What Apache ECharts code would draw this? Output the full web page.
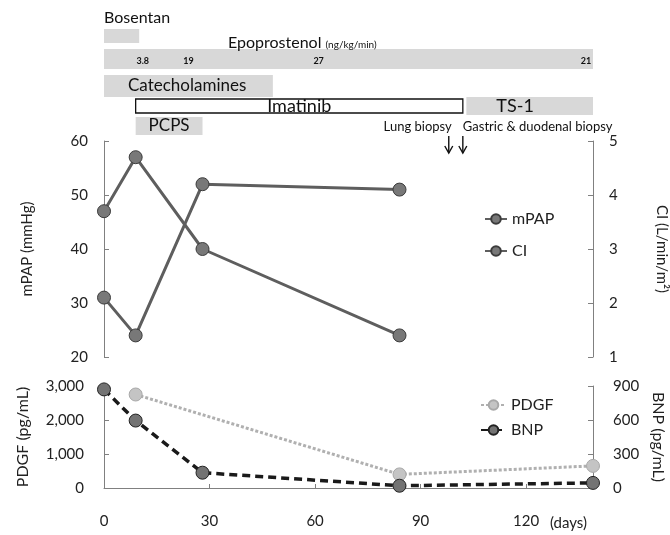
<!DOCTYPE html>
<html>
<head>
<meta charset="utf-8">
<script src="https://cdn.jsdelivr.net/npm/echarts@6/dist/echarts.min.js"></script>
<style>
  html, body { margin: 0; padding: 0; background: #fff; }
  #chart { width: 670px; height: 535px; }
</style>
</head>
<body>
<div id="chart"></div>
<script>
// hemodynamics
const hemoDays = [0, 9, 28, 84];
const mPAP = [47, 57, 40, 24];
const CI = [2.1, 1.4, 4.2, 4.1];

// biomarkers
const bnpDays = [0, 9, 28, 84, 139];
const BNP = [870, 595, 135, 20, 45];
const pdgfDays = [9, 84, 139];
const PDGF = [2750, 400, 650];

const dayTicks = [0, 30, 60, 90, 120];

// treatment timeline (days)
const treatNames = ['Bosentan', 'Epoprostenol', 'Catecholamines', 'Imatinib', 'TS-1', 'PCPS'];
const treatStart = [0, 0, 0, 9, 103, 9];
const treatEnd = [10, 139, 48, 102, 139, 28];

const doseDays = [11, 24, 61, 137];
const doseLabels = ['3.8', '19', '27', '21'];

const biopsyDays = [98, 102];
const biopsyLabels = ['Lung biopsy', 'Gastric & duodenal biopsy'];

const FONT = 'Lato';
const GRAY = '#d8d8d8';
const AXIS = '#808080';

// row placement of the bars in the timeline strip
const barLayout = {
  'Bosentan':       { y: 29,  h: 14, fill: GRAY,   dx: 0,  ty: 18,  size: 16 },
  'Epoprostenol':   { y: 49,  h: 20, fill: GRAY,   dx: 124, ty: 43, size: 16, rich: true },
  'Catecholamines': { y: 75,  h: 22, fill: GRAY,   dx: 24, ty: 86,  size: 17 },
  'Imatinib':       { y: 99,  h: 14, fill: '#fff', stroke: '#111', center: true, ty: 106, size: 18 },
  'TS-1':           { y: 97,  h: 18, fill: GRAY,   dx: 30, ty: 106, size: 18 },
  'PCPS':           { y: 117, h: 18, fill: GRAY,   center: true, ty: 126, size: 17 }
};

function renderTreatment(params, api) {
  const name = treatNames[api.value(2)];
  const L = barLayout[name];
  const x0 = api.coord([api.value(0), 0])[0];
  const x1 = api.coord([api.value(1), 0])[0];
  const tx = L.center ? (x0 + x1) / 2 : x0 + L.dx;
  const textStyle = {
    x: tx, y: L.ty,
    align: L.center ? 'center' : 'left',
    verticalAlign: 'middle',
    fill: '#111',
    fontSize: L.size, fontFamily: FONT
  };
  if (L.rich) {
    textStyle.text = '{a|Epoprostenol} {b|(ng/kg/min)}';
    textStyle.rich = {
      a: { fontSize: 16, fontFamily: FONT, fill: '#111', verticalAlign: 'bottom' },
      b: { fontSize: 10, fontFamily: FONT, fill: '#111', verticalAlign: 'bottom', padding: [0, 0, 1, 0] }
    };
  } else {
    textStyle.text = name;
  }
  return {
    type: 'group',
    children: [
      {
        type: 'rect',
        shape: { x: x0, y: L.y, width: x1 - x0, height: L.h },
        style: { fill: L.fill, stroke: L.stroke || null, lineWidth: L.stroke ? 1.3 : 0 }
      },
      { type: 'text', style: textStyle }
    ]
  };
}

function renderDose(params, api) {
  const x = api.coord([api.value(0), 0])[0];
  return {
    type: 'text',
    style: {
      text: doseLabels[params.dataIndex], x: x, y: 61.5,
      align: 'center', verticalAlign: 'middle',
      fontSize: 9, fontWeight: 'bold', fontFamily: FONT, fill: '#111'
    }
  };
}

function renderBiopsy(params, api) {
  const x = api.coord([api.value(0), 0])[0];
  const i = params.dataIndex;
  return {
    type: 'group',
    children: [
      { type: 'line', shape: { x1: x, y1: 136, x2: x, y2: 153 }, style: { stroke: '#111', lineWidth: 1.4 } },
      { type: 'polyline', shape: { points: [[x - 4, 146], [x, 153], [x + 4, 146]] }, style: { stroke: '#111', lineWidth: 1.4, fill: null } },
      {
        type: 'text',
        style: {
          text: biopsyLabels[i], x: i === 0 ? x + 3 : x, y: 127,
          align: i === 0 ? 'right' : 'left', verticalAlign: 'middle',
          fontSize: 13, fontFamily: FONT, fill: '#111'
        }
      }
    ]
  };
}

const labelStyle = { fontSize: 15, fontFamily: FONT, color: '#222' };
const nameStyle = { fontSize: 15, fontFamily: FONT, color: '#222' };

function yAxisBase(grid, pos, min, max, step) {
  return {
    gridIndex: grid, type: 'value', position: pos,
    min: min, max: max, interval: step,
    axisLine: { show: true, onZero: false, lineStyle: { color: AXIS, width: 1 } },
    axisTick: { show: true, inside: true, length: 5, lineStyle: { color: AXIS } },
    splitLine: { show: false },
    axisLabel: Object.assign({ margin: 16 }, labelStyle),
    nameLocation: 'middle',
    nameMoveOverlap: false,
    nameTextStyle: nameStyle
  };
}

const chart = echarts.init(document.getElementById('chart'));

const yMPAP = yAxisBase(1, 'left', 20, 60, 10);
yMPAP.name = 'mPAP (mmHg)';
yMPAP.nameGap = 69;

const yCI = yAxisBase(1, 'right', 1, 5, 1);
yCI.name = 'CI (L/min/m²)';
yCI.nameGap = 61;
yCI.nameRotate = -90;

const yPDGF = yAxisBase(2, 'left', 0, 3000, 1000);
yPDGF.name = 'PDGF (pg/mL)';
yPDGF.nameGap = 73;
yPDGF.nameTextStyle = Object.assign({}, nameStyle, { fontSize: 16 });
yPDGF.axisLabel.formatter = v => v.toLocaleString('en-US');
yPDGF.axisLabel.margin = 20;

const yBNP = yAxisBase(2, 'right', 0, 900, 300);
yBNP.name = 'BNP (pg/mL)';
yBNP.nameGap = 57;
yBNP.nameRotate = -90;
yBNP.nameTextStyle = Object.assign({}, nameStyle, { fontSize: 16 });
yBNP.axisLabel.margin = 20;

const option = {
  backgroundColor: '#fff',
  animation: false,
  grid: [
    { left: 104, right: 77, top: 0, height: 140, outerBoundsMode: 'none' },
    { left: 104, right: 77, top: 141, height: 216, outerBoundsMode: 'none' },
    { left: 104, right: 77, top: 386, height: 102, outerBoundsMode: 'none' }
  ],
  xAxis: [
    { gridIndex: 0, type: 'value', min: 0, max: 139, show: false },
    { gridIndex: 1, type: 'value', min: 0, max: 139, show: false },
    {
      gridIndex: 2, type: 'value', min: 0, max: 139, interval: 30,
      axisLine: { show: true, onZero: false, lineStyle: { color: AXIS, width: 1 } },
      axisTick: { show: true, inside: true, length: 4, lineStyle: { color: AXIS } },
      splitLine: { show: false },
      axisLabel: Object.assign({ margin: 26, formatter: v => dayTicks.includes(v) ? String(v) : '' }, labelStyle)
    }
  ],
  yAxis: [
    { gridIndex: 0, type: 'value', min: 0, max: 1, show: false },
    yMPAP, yCI, yPDGF, yBNP
  ],
  legend: [
    {
      data: ['mPAP', 'CI'], orient: 'vertical', left: 484, top: 211,
      itemGap: 16, itemWidth: 22, itemHeight: 12, padding: 0,
      textStyle: { fontSize: 16, fontFamily: FONT, color: '#222' }
    },
    {
      data: ['PDGF', 'BNP'], orient: 'vertical', left: 480, top: 397,
      itemGap: 9, itemWidth: 25, itemHeight: 12, padding: 0,
      textStyle: { fontSize: 16, fontFamily: FONT, color: '#222' }
    }
  ],
  graphic: [
    { type: 'text', left: 550, top: 516, style: { text: '(days)', fontSize: 15, fontFamily: FONT, fill: '#222' } }
  ],
  series: [
    {
      type: 'custom', xAxisIndex: 0, yAxisIndex: 0, clip: false,
      renderItem: renderTreatment,
      encode: { x: [0, 1] },
      data: treatNames.map((n, i) => [treatStart[i], treatEnd[i], i])
    },
    {
      type: 'custom', xAxisIndex: 0, yAxisIndex: 0, clip: false,
      renderItem: renderDose,
      data: doseDays.map(d => [d])
    },
    {
      type: 'custom', xAxisIndex: 0, yAxisIndex: 0, clip: false,
      renderItem: renderBiopsy,
      data: biopsyDays.map(d => [d])
    },
    {
      name: 'mPAP', type: 'line', xAxisIndex: 1, yAxisIndex: 1,
      data: hemoDays.map((d, i) => [d, mPAP[i]]),
      symbol: 'circle', symbolSize: 13,
      lineStyle: { color: '#5e5e5e', width: 3 },
      itemStyle: { color: '#787878', borderColor: '#3c3c3c', borderWidth: 1 }
    },
    {
      name: 'CI', type: 'line', xAxisIndex: 1, yAxisIndex: 2,
      data: hemoDays.map((d, i) => [d, CI[i]]),
      symbol: 'circle', symbolSize: 13,
      lineStyle: { color: '#5e5e5e', width: 3 },
      itemStyle: { color: '#787878', borderColor: '#3c3c3c', borderWidth: 1 }
    },
    {
      name: 'PDGF', type: 'line', xAxisIndex: 2, yAxisIndex: 3,
      data: pdgfDays.map((d, i) => [d, PDGF[i]]),
      symbol: 'circle', symbolSize: 13,
      lineStyle: { color: '#b0b0b0', width: 3, type: [3, 2] },
      itemStyle: { color: '#c4c4c4', borderColor: '#a8a8a8', borderWidth: 1 }
    },
    {
      name: 'BNP', type: 'line', xAxisIndex: 2, yAxisIndex: 4,
      data: bnpDays.map((d, i) => [d, BNP[i]]),
      symbol: 'circle', symbolSize: 13,
      lineStyle: { color: '#1a1a1a', width: 3.5, type: [8, 5] },
      itemStyle: { color: '#737373', borderColor: '#222', borderWidth: 1 }
    }
  ]
};

chart.setOption(option);
</script>
</body>
</html>
